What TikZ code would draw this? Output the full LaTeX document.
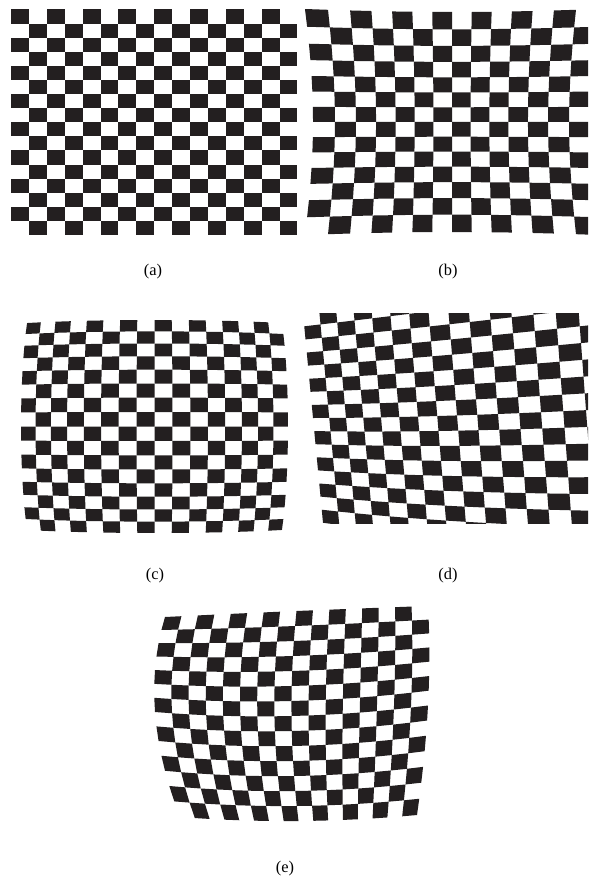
\documentclass[tikz,border=0pt]{standalone}
\usepackage{fontspec}
\setmainfont{Liberation Serif}
\definecolor{BoardBlack}{HTML}{231F20}

% one checkerboard: #1 map, #2 columns, #3 rows, #4 first black column
\newcommand\checkers[4]{%
  \pgfmathtruncatemacro\lastcol{#2-1}%
  \pgfmathtruncatemacro\lastrow{#3-1}%
  \foreach \j in {0,...,\lastrow}{%
    \pgfmathtruncatemacro\colA{mod(\j+#4,2)}%
    \pgfmathtruncatemacro\colB{\colA+2}%
    \foreach \i in {\colA,\colB,...,\lastcol}
      \fill[sq] ({#1X(\i,\j)},{#1Y(\i,\j)}) -- ({#1X(\i+1,\j)},{#1Y(\i+1,\j)})
        -- ({#1X(\i+1,\j+1)},{#1Y(\i+1,\j+1)}) -- ({#1X(\i,\j+1)},{#1Y(\i,\j+1)}) -- cycle;
  }}

\tikzset{
  sq/.style={fill=BoardBlack},
  lbl/.style={font=\fontsize{14}{16}\selectfont},
  declare function={
    % (a) plain board
    aX(\x,\y)=11+17.9*\x; aY(\x,\y)=9.5+14.1*\y;
    % (b) pincushion
    bs(\x)=(\x-7)/7; bt(\y)=(\y-7)/7;
    bX(\x,\y)=452+130*bs(\x)*(1+0.069*bs(\x)*bs(\x)+0.062*bt(\y)*bt(\y));
    bY(\x,\y)=122+103*bt(\y)*(1+0.068*bt(\y)*bt(\y)+0.029*bs(\x)*bs(\x));
    % (c) barrel
    cs(\x)=(\x-8)/8; ct(\y)=(\y-8)/8;
    cX(\x,\y)=154.5+144*cs(\x)*(1-0.073*cs(\x)*cs(\x)-0.042*ct(\y)*ct(\y));
    cY(\x,\y)=426.5+116*ct(\y)*(1-0.082*ct(\y)*ct(\y)-0.026*cs(\x)*cs(\x));
    % (d) tilted
    dP(\x)=16*\x+0.25*\x*\x; dH(\x)=13.1*(1+0.02*\x);
    dX(\x,\y)=303+dP(\x)+1.25*\y;
    dY(\x,\y)=418-0.04*\x*\x+(\y-8)*dH(\x);
    % (e) mixed
    es(\x)=(\x-8)/8; et(\y)=(\y-7)/7;
    eX(\x,\y)=291.5+136.5*es(\x)+(1-6.5*es(\x))*et(\y)+(6-11.5*es(\x))*et(\y)*et(\y);
    eY(\x,\y)=716+105*et(\y)-3.25*es(\x)-2.25*es(\x)*es(\x)+(2.25*es(\x)-2.75*es(\x)*es(\x))*et(\y)-5*es(\x)*es(\x)*(1-et(\y)*et(\y));
  }
}

\begin{document}
\begin{tikzpicture}[x=0.03cm,y=-0.03cm]
  \useasboundingbox (0,0) rectangle (588,880);
  \checkers{a}{16}{16}{0}
  \begin{scope} \clip (300,0) rectangle (588,250); \checkers{b}{14}{14}{0} \end{scope}
  \checkers{c}{16}{16}{0}
  \begin{scope} \clip (300,313) rectangle (588,523); \checkers{d}{16}{16}{1} \end{scope}
  \checkers{e}{16}{14}{0}
  \node[lbl] (capA) at (153,272) {(a)}; \node[lbl] (capB) at (448,272) {(b)};
  \node[lbl] (capC) at (155,576) {(c)}; \node[lbl] (capD) at (448,576) {(d)};
  \node[lbl] (capE) at (285,869) {(e)};
\end{tikzpicture}
\end{document}
